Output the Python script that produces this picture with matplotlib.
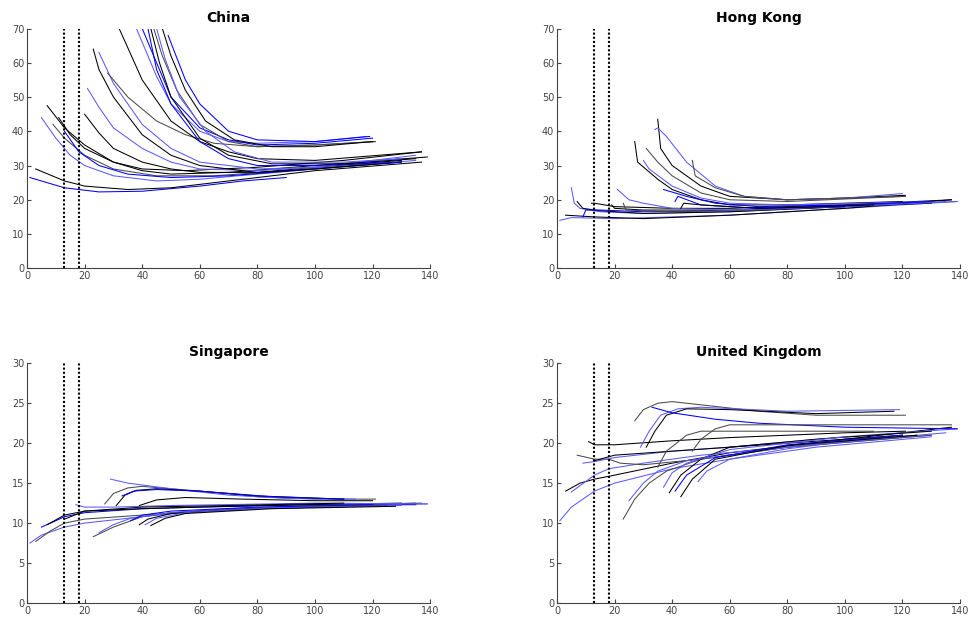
import matplotlib
matplotlib.use('Agg')
import matplotlib.pyplot as plt

# Forecast-curve traces, one list per curve.
# colour codes: k = black, g = dark grey, b = blue, l = light blue

china_x = [
    [1, 13, 25, 40, 60, 75, 90],
    [3, 13, 20, 35, 50, 70, 100, 137],
    [5, 10, 15, 20, 30, 45, 60, 80, 100, 135],
    [7, 13, 20, 30, 40, 55, 80, 110, 137],
    [9, 13, 20, 30, 45, 65, 90, 120],
    [11, 15, 20, 30, 40, 50, 70, 100, 139],
    [13, 18, 25, 35, 50, 70, 100, 130],
    [20, 25, 30, 40, 50, 60, 80, 100, 130],
    [21, 25, 30, 40, 50, 60, 80, 100, 135],
    [23, 25, 30, 40, 50, 60, 80, 100, 130],
    [25, 30, 40, 50, 60, 80, 100, 130],
    [28, 35, 45, 55, 65, 80, 100, 121],
    [32, 40, 50, 60, 70, 80, 100, 137],
    [38, 45, 50, 60, 70, 80, 100, 118],
    [40, 45, 50, 60, 70, 80, 100, 120],
    [42, 45, 50, 60, 70, 80, 100, 130],
    [43, 46, 50, 60, 70, 85, 110, 135],
    [44, 47, 52, 60, 70, 80, 100, 121],
    [45, 48, 53, 62, 72, 85, 110, 130],
    [47, 50, 55, 62, 72, 85, 100, 120],
    [49, 55, 60, 70, 80, 100, 119],
]
china_y = [
    [26.5, 23.5, 22.3, 22.5, 24, 25.5, 26.5],
    [29, 25.5, 24, 23, 23.5, 25.5, 28.5, 31],
    [44, 38, 33, 30, 27, 25.5, 26, 27.5, 29, 31.5],
    [47.5, 41, 36, 31, 29, 28.5, 29.5, 31.5, 34],
    [42, 38, 33, 29, 27, 27, 28.5, 30.5],
    [44, 39, 35, 31, 28.5, 27.5, 28, 30, 32.5],
    [40, 34, 30, 27.5, 26.5, 27, 29, 31],
    [45, 39.5, 35, 31, 29, 28, 28, 29.5, 31.5],
    [52.5, 47, 41, 35, 31, 29, 28.5, 29.5, 33],
    [64, 58, 50, 39, 33, 30, 28, 29, 31],
    [63, 54, 42, 35, 31, 29, 29.5, 32],
    [57, 50, 43, 39, 36.5, 35.5, 36, 37],
    [70, 55, 43, 37, 34, 32, 31.5, 34],
    [70, 56, 48, 40, 37, 36.5, 37, 38.5],
    [70, 60, 50, 41, 37.5, 36, 36.5, 38],
    [70, 58, 48, 37, 32, 30, 30, 31],
    [70, 60, 50, 38, 33, 30.5, 30.5, 32],
    [70, 62, 52, 42, 37, 35.5, 36, 37],
    [70, 61, 50, 40, 34, 31, 31, 32],
    [70, 62, 52, 43, 37.5, 35.5, 35.5, 37],
    [68, 55, 48, 40, 37.5, 37, 38.5],
]
china_c = ['b', 'k', 'l', 'k', 'g', 'k', 'b', 'k', 'l', 'k', 'l', 'g', 'k',
           'l', 'b', 'b', 'k', 'g', 'l', 'k', 'b']

hk_x = [
    [1, 5, 20, 40, 60, 80, 100, 139],
    [3, 13, 30, 60, 100, 137],
    [5, 6, 8, 15, 30, 60, 100, 135],
    [7, 9, 15, 30, 60, 100, 130],
    [12, 13, 20, 40, 60, 100, 137],
    [9, 10, 15, 30, 60, 100, 128],
    [19, 20, 30, 60, 100, 125],
    [23, 24, 40, 70, 120],
    [21, 25, 30, 40, 60, 100, 139],
    [27, 28, 35, 40, 50, 60, 80, 120],
    [30, 32, 40, 50, 60, 80, 130],
    [31, 35, 40, 50, 60, 80, 121],
    [35, 36, 40, 50, 60, 80, 100, 121],
    [34, 35, 38, 45, 55, 65, 80, 100, 120],
    [47, 48, 55, 65, 80, 100, 121],
    [37, 45, 55, 70, 100, 130],
    [41, 42, 50, 70, 100],
    [43, 44, 50, 70, 110],
]
hk_y = [
    [14, 14.8, 14.5, 15, 15.5, 16.5, 17.5, 19.5],
    [15.5, 15, 14.5, 15.5, 17.5, 20],
    [23.5, 19, 17.5, 16.5, 16, 16.5, 18, 19.5],
    [19.5, 17.5, 16.8, 16, 16.5, 18, 19],
    [19, 19, 18, 17.5, 17.5, 18.5, 20],
    [15, 17, 17, 16.5, 16.8, 18.2, 19.3],
    [18.5, 17.5, 17, 17, 18, 19],
    [19, 17, 16.5, 17, 19],
    [23, 20, 19, 17.5, 17, 18, 19.5],
    [37, 31, 26, 23, 20, 18.5, 18.5, 19.5],
    [31.5, 29, 24, 20.5, 19, 18.5, 19.5],
    [35, 31, 27, 22, 20, 19.5, 21],
    [43.5, 35, 30, 24, 21, 20, 20.5, 21.3],
    [40.5, 41, 38.5, 31, 24, 21, 20, 20.5, 21.8],
    [31.5, 27, 23.5, 21, 20, 20.5, 21],
    [23, 21, 19, 18, 18.5, 19.5],
    [19.5, 21, 18.5, 17.5, 18],
    [17.5, 19, 18.5, 17.5, 18.5],
]
hk_c = ['l', 'k', 'l', 'k', 'k', 'b', 'k', 'g', 'l', 'k', 'l', 'g', 'k',
        'l', 'g', 'b', 'b', 'k']

sg_x = [
    [1, 5, 13, 20, 40, 60, 100, 139],
    [3, 8, 13, 20, 40, 60, 100, 137],
    [5, 10, 13, 20, 40, 60, 100, 135],
    [7, 13, 20, 40, 80, 130],
    [23, 30, 40, 50, 70, 100, 135],
    [25, 30, 36, 50, 90, 130],
    [27, 30, 35, 40, 60, 80, 100, 121],
    [29, 35, 50, 70, 90, 114],
    [31, 34, 38, 45, 60, 80, 110],
    [33, 37, 45, 60, 85, 110],
    [39, 45, 55, 75, 100, 120],
    [17, 20, 30, 50, 100, 139],
    [36, 40, 50, 80, 120],
    [39, 42, 50, 80, 125],
    [41, 45, 55, 85, 130],
    [43, 48, 55, 85, 128],
    [13, 20, 40, 70, 110],
]
sg_y = [
    [7.5, 8.5, 9.5, 10, 10.8, 11.5, 12.2, 12.4],
    [7.7, 9, 10, 10.5, 11, 11.5, 12.2, 12.5],
    [9.5, 10.3, 10.8, 11.3, 11.8, 12, 12.3, 12.3],
    [9.8, 11, 11.5, 11.8, 12.2, 12.5],
    [8.3, 9.5, 10.8, 11.3, 11.8, 12.2, 12.5],
    [8.8, 9.8, 10.6, 11.3, 12, 12.3],
    [12.4, 13.7, 14.4, 14.6, 14, 13.3, 13, 13],
    [15.5, 15, 14.3, 13.5, 13.1, 13],
    [12.2, 13.5, 14.1, 14.3, 14, 13.4, 13],
    [13.4, 14, 14.2, 14, 13.3, 13],
    [12.2, 12.9, 13.2, 13, 12.8, 12.8],
    [12.3, 12, 12, 12.2, 12.5, 12.4],
    [10.3, 11, 11.5, 12, 12.3],
    [9.8, 10.5, 11.2, 11.8, 12.2],
    [9.8, 10.6, 11.3, 11.9, 12.2],
    [9.7, 10.6, 11.2, 11.8, 12.1],
    [10.5, 11.5, 12, 12.2, 12.5],
]
sg_c = ['l', 'g', 'b', 'k', 'g', 'l', 'g', 'l', 'k', 'b', 'k', 'l', 'b',
        'k', 'l', 'k', 'k']

uk_x = [
    [1, 5, 13, 20, 40, 60, 80, 100, 135],
    [3, 8, 13, 20, 40, 60, 100, 137],
    [5, 10, 13, 18, 30, 50, 80, 130],
    [7, 13, 18, 22, 30, 50, 80, 130],
    [11, 13, 20, 40, 60, 100, 121],
    [9, 13, 20, 40, 60, 100, 139],
    [13, 20, 40, 80, 120],
    [23, 27, 32, 38, 50, 80, 120],
    [25, 30, 35, 45, 80, 125],
    [27, 30, 35, 40, 50, 70, 90, 121],
    [29, 32, 36, 42, 50, 80, 119],
    [31, 34, 38, 45, 60, 90, 117],
    [33, 40, 55, 70, 100, 139],
    [35, 38, 45, 50, 60, 80, 110],
    [39, 43, 50, 60, 90, 130],
    [47, 50, 55, 60, 80, 100, 137],
    [37, 40, 45, 60, 100],
    [41, 45, 55, 80, 120],
    [43, 47, 55, 80, 125],
    [49, 52, 60, 90, 130],
]
uk_y = [
    [10.3, 12, 14, 15, 16.8, 18, 19.3, 20.2, 21.3],
    [14, 15, 15.5, 16, 17.5, 18.8, 20.5, 22],
    [13.9, 15.2, 16, 16.8, 17.5, 18.5, 19.5, 21],
    [18.5, 18, 18, 17.5, 17.3, 18, 19.5, 21],
    [20.2, 19.8, 19.8, 20.3, 20.7, 21.3, 21.5],
    [17.5, 17.7, 18.2, 19, 19.5, 20.8, 21.8],
    [17.8, 18.5, 19, 20, 21],
    [10.5, 13, 15, 16.5, 18, 19.5, 21],
    [12.8, 15, 16.5, 17.8, 19.5, 21],
    [22.8, 24.2, 25, 25.2, 24.8, 24, 23.5, 23.5],
    [19.5, 21.5, 23.5, 24.3, 24.5, 24, 24.2],
    [19.5, 21.5, 23.5, 24.3, 24.2, 23.7, 24],
    [24.5, 23.8, 23, 22.5, 22, 21.8],
    [17, 19, 21, 21.5, 21.5, 21.5, 21.5],
    [13.8, 16, 18, 19.5, 20.5, 21.5],
    [19, 20.5, 21.8, 22.3, 22.3, 22.3, 22.3],
    [14.5, 16.3, 17.5, 19.2, 20.8],
    [14, 16, 18.2, 19.8, 21],
    [13.3, 15.5, 18, 19.7, 21],
    [15.2, 16.5, 18, 19.5, 20.8],
]
uk_c = ['l', 'k', 'l', 'g', 'k', 'l', 'k', 'g', 'l', 'g', 'l', 'k', 'b',
        'g', 'k', 'g', 'l', 'b', 'k', 'l']

titles = ['China', 'Hong Kong', 'Singapore', 'United Kingdom']
ylims = [70, 70, 30, 30]
vlines = [13, 18]

colour = {'k': '#000000', 'g': '#4a4a4a', 'b': '#0000ff', 'l': '#5a5aff'}

fig = plt.figure(figsize=(9.69, 6.21), dpi=100)
rects = [
    [0.0279, 0.568, 0.416, 0.386],
    [0.5748, 0.568, 0.416, 0.386],
    [0.0279, 0.029, 0.416, 0.386],
    [0.5748, 0.029, 0.416, 0.386],
]
panels = [(china_x, china_y, china_c), (hk_x, hk_y, hk_c),
          (sg_x, sg_y, sg_c), (uk_x, uk_y, uk_c)]

for i, (xs, ys, cs) in enumerate(panels):
    ax = fig.add_axes(rects[i])
    for x, y, c in zip(xs, ys, cs):
        ax.plot(x, y, color=colour[c], linewidth=0.75)
    for v in vlines:
        ax.plot([v, v], [0, ylims[i]], color='black',
                linestyle=(0, (1, 1)), linewidth=1.5)
    ax.set_xlim(0, 140)
    ax.set_ylim(0, ylims[i])
    ax.set_xticks(range(0, 141, 20))
    ax.set_yticks(range(0, ylims[i] + 1, 10 if ylims[i] == 70 else 5))
    ax.spines['top'].set_visible(False)
    ax.spines['right'].set_visible(False)
    for s in ['left', 'bottom']:
        ax.spines[s].set_color('#444444')
        ax.spines[s].set_linewidth(0.8)
    ax.tick_params(direction='in', length=3, width=0.8, colors='#444444',
                   labelsize=7, pad=2)
    ax.set_title(titles[i], fontsize=10, fontweight='bold', pad=5)

plt.savefig('out.png', dpi=100)
